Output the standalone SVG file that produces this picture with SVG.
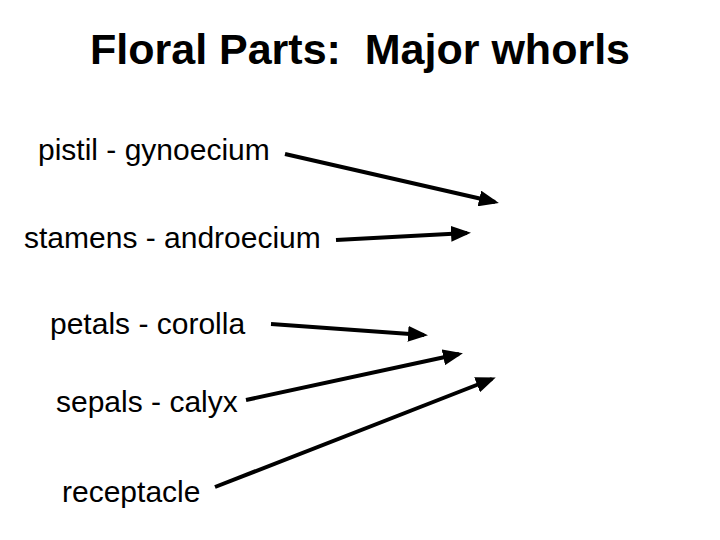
<svg xmlns="http://www.w3.org/2000/svg" width="720" height="540" viewBox="0 0 720 540">
<style>
text{font-family:"Liberation Sans",Arial,sans-serif;fill:#000}
.t{font-size:43px;font-weight:bold;white-space:pre}
.l{font-size:30px}
.c line{stroke:#000;stroke-width:4;marker-end:url(#a)}
</style>
<defs><marker id="a" markerWidth="5" markerHeight="4" refX="4" refY="2" orient="auto"><path d="M0,0L5,2L0,4z" fill="#000"/></marker></defs>
<rect width="720" height="540" fill="#fff"/>
<text class="t" x="360" y="64" text-anchor="middle" xml:space="preserve">Floral Parts:  Major whorls</text>
<g id="n1"><text class="l" x="38" y="160">pistil - gynoecium</text></g>
<g id="n2"><text class="l" x="24" y="248">stamens - androecium</text></g>
<g id="n3"><text class="l" x="50" y="334">petals - corolla</text></g>
<g id="n4"><text class="l" x="56" y="412">sepals - calyx</text></g>
<g id="n5"><text class="l" x="62" y="502">receptacle</text></g>
<g class="c">
<line x1="285" y1="154" x2="495" y2="202"/>
<line x1="336" y1="240" x2="467" y2="233"/>
<line x1="271" y1="324" x2="424" y2="335"/>
<line x1="246" y1="400" x2="459" y2="354"/>
<line x1="215" y1="487" x2="492" y2="379"/>
</g>
</svg>
